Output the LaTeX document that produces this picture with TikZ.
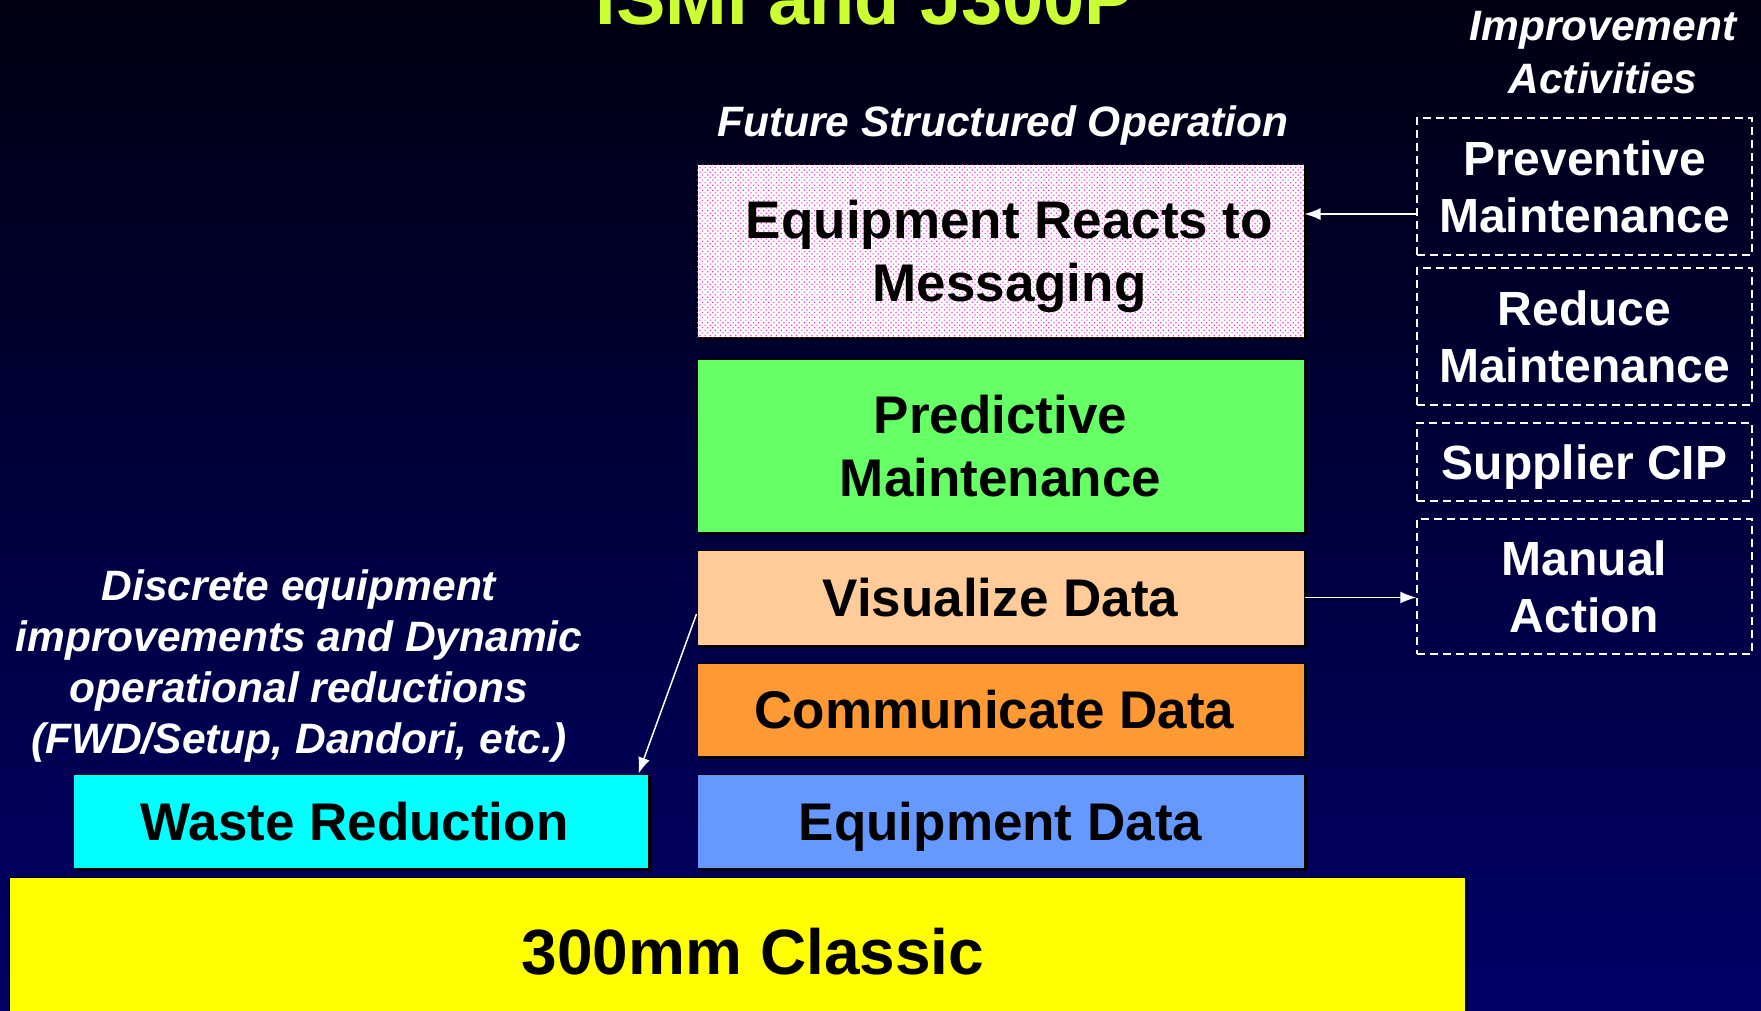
\documentclass[tikz,border=0pt]{standalone}
\usepackage{fontspec}
\setmainfont{Liberation Sans}
\usetikzlibrary{arrows.meta,patterns.meta,calc,shadows}

\definecolor{titlegreen}{RGB}{204,255,51}
\definecolor{bgtop}{RGB}{0,0,18}
\definecolor{bgbottom}{RGB}{0,0,104}
\definecolor{dotpink}{RGB}{255,50,205}
\definecolor{predgreen}{RGB}{102,255,102}
\definecolor{peach}{RGB}{255,204,153}
\definecolor{commorange}{RGB}{255,153,51}
\definecolor{datablue}{RGB}{102,153,255}
\definecolor{wastecyan}{RGB}{0,255,255}
\definecolor{classicyellow}{RGB}{255,255,0}

\begin{document}
\begin{tikzpicture}[x=1pt,y=-1pt,
  layer/.style={draw=black,line width=1pt,inner sep=0pt,align=center,text depth=0pt,
    drop shadow={shadow xshift=3pt,shadow yshift=-3pt,opacity=1,fill=black},
    font=\bfseries\fontsize{53}{63}\selectfont},
  activity/.style={draw=white,line width=1.5pt,dash pattern=on 8pt off 5pt,
    inner sep=0pt,align=center,text=white,text depth=0pt,minimum width=335pt,
    font=\bfseries\fontsize{48}{57}\selectfont},
  remark/.style={text=white,align=center,inner sep=0pt,
    font=\bfseries\itshape\fontsize{42.5}{51}\selectfont},
  link/.style={draw=white,line width=1.5pt,-{Latex[length=16pt,width=12pt]}}]
\useasboundingbox (0,0) rectangle (1761,1010);
% background
\shade[top color=bgtop,bottom color=bgbottom] (0,0) rectangle (1761,1010);
% title, cut off at the top
\node[anchor=base,inner sep=0pt,text=black!80!bgtop,font=\bfseries\fontsize{74}{80}\selectfont] at (867,26) {ISMI and J300P};
\node[anchor=base,inner sep=0pt,text=titlegreen,font=\bfseries\fontsize{74}{80}\selectfont] (title) at (865,24) {ISMI and J300P};
% structured operation stack
\node[layer,fill=white,postaction={pattern={Dots[distance=3.6pt,radius=0.85pt,angle=45]},pattern color=dotpink},
  minimum width=607pt,minimum height=173pt] (react) at (1000.5,250.5) {\hspace*{18pt}Equipment Reacts to\\\hspace*{18pt}Messaging};
\node[layer,fill=predgreen,minimum width=607pt,minimum height=173pt] (predict) at (1000.5,445.5) {Predictive\\Maintenance};
\node[layer,fill=peach,minimum width=607pt,minimum height=95pt] (visual) at (1000.5,597.5) {Visualize Data};
\node[layer,fill=commorange,minimum width=607pt,minimum height=93pt] (commun) at (1000.5,709.5) {Communicate Data\hspace*{12pt}};
\node[layer,fill=datablue,minimum width=607pt,minimum height=94pt] (eqdata) at (1000.5,821) {Equipment Data};
\node[layer,fill=wastecyan,minimum width=575pt,minimum height=94pt] (waste) at (360.5,821) {Waste Reduction\hspace*{12pt}};
\node[layer,fill=classicyellow,minimum width=1456pt,minimum height=148pt,
  font=\bfseries\fontsize{64}{70}\selectfont] (classic) at (737,951) {\hspace*{32pt}300mm Classic};
% improvement activities
\node[activity,minimum height=137pt] (prevent) at (1584.5,186.5) {Preventive\\Maintenance};
\node[activity,minimum height=137pt] (reduce) at (1584.5,336.5) {Reduce\\Maintenance};
\node[activity,minimum height=78pt] (cip) at (1584.5,462) {Supplier CIP};
\node[activity,minimum height=135pt] (manual) at (1584.5,586.5) {Manual\\Action};
% labels
\node[remark] (future) at (1003,126) {Future Structured Operation};
\node[remark,font=\bfseries\itshape\fontsize{42.5}{53}\selectfont] (improve) at (1603,53) {Improvement\\Activities};
\node[remark] (discrete) at (299,666) {Discrete equipment\\improvements and Dynamic\\operational reductions\\(FWD/Setup, Dandori, etc.)};
% arrows
\draw[link] ($(prevent.west)+(0,27.5)$) -- ($(react.east)+(0,-36.5)$);
\draw[link] (visual.east) -- (visual.east -| manual.west);
\draw[link] ($(visual.west)+(0,16.5)$) -- ($(waste.north east)+(-10,0)$);
\end{tikzpicture}
\end{document}
